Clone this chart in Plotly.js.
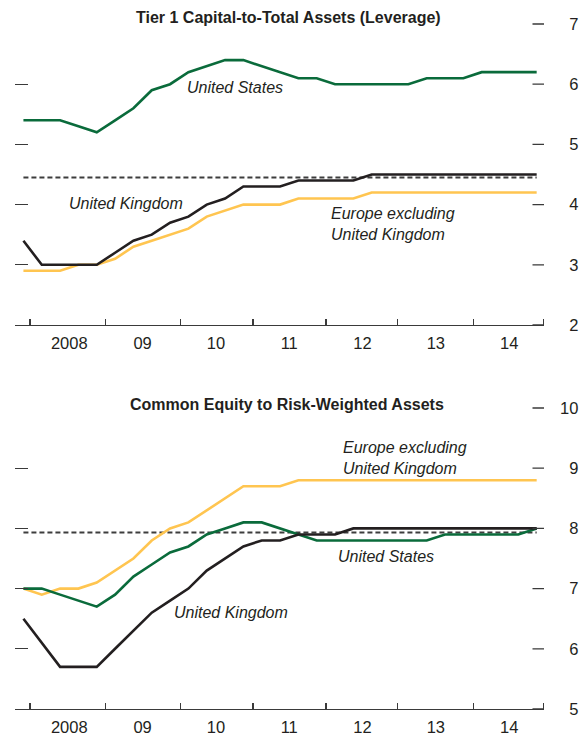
<!DOCTYPE html>
<html>
<head>
<meta charset="utf-8">
<script src="https://cdn.plot.ly/plotly-3.0.1.min.js"></script>
<style>html,body{margin:0;padding:0;background:#fff;}#chart{width:579px;height:740px;}</style>
</head>
<body>
<div id="chart"></div>
<script>
// Quarterly observations, 2007:Q4 .. 2014:Q4 (29 quarters)
const quarters = Array.from({length: 29}, (_, i) => i);
const yearLabels = ['2008', '09', '10', '11', '12', '13', '14'];
const yearCenters = [2.5, 6.5, 10.5, 14.5, 18.5, 22.5, 26.5];

// Panel 1: Tier 1 Capital-to-Total Assets (Leverage)
const levUS = [5.4, 5.4, 5.4, 5.3, 5.2, 5.4, 5.6, 5.9, 6.0, 6.2, 6.3, 6.4, 6.4, 6.3, 6.2, 6.1, 6.1, 6.0, 6.0, 6.0, 6.0, 6.0, 6.1, 6.1, 6.1, 6.2, 6.2, 6.2, 6.2];
const levUK = [3.4, 3.0, 3.0, 3.0, 3.0, 3.2, 3.4, 3.5, 3.7, 3.8, 4.0, 4.1, 4.3, 4.3, 4.3, 4.4, 4.4, 4.4, 4.4, 4.5, 4.5, 4.5, 4.5, 4.5, 4.5, 4.5, 4.5, 4.5, 4.5];
const levEU = [2.9, 2.9, 2.9, 3.0, 3.0, 3.1, 3.3, 3.4, 3.5, 3.6, 3.8, 3.9, 4.0, 4.0, 4.0, 4.1, 4.1, 4.1, 4.1, 4.2, 4.2, 4.2, 4.2, 4.2, 4.2, 4.2, 4.2, 4.2, 4.2];
const levRef = 4.45;

// Panel 2: Common Equity to Risk-Weighted Assets
const ceUS = [7.0, 7.0, 6.9, 6.8, 6.7, 6.9, 7.2, 7.4, 7.6, 7.7, 7.9, 8.0, 8.1, 8.1, 8.0, 7.9, 7.8, 7.8, 7.8, 7.8, 7.8, 7.8, 7.8, 7.9, 7.9, 7.9, 7.9, 7.9, 8.0];
const ceUK = [6.5, 6.1, 5.7, 5.7, 5.7, 6.0, 6.3, 6.6, 6.8, 7.0, 7.3, 7.5, 7.7, 7.8, 7.8, 7.9, 7.9, 7.9, 8.0, 8.0, 8.0, 8.0, 8.0, 8.0, 8.0, 8.0, 8.0, 8.0, 8.0];
const ceEU = [7.0, 6.9, 7.0, 7.0, 7.1, 7.3, 7.5, 7.8, 8.0, 8.1, 8.3, 8.5, 8.7, 8.7, 8.7, 8.8, 8.8, 8.8, 8.8, 8.8, 8.8, 8.8, 8.8, 8.8, 8.8, 8.8, 8.8, 8.8, 8.8];
const ceRef = 7.93;

const levTicks = [2, 3, 4, 5, 6, 7];
const ceTicks = [5, 6, 7, 8, 9, 10];

const FONT = '"Liberation Sans", Arial, "Helvetica Neue", sans-serif';
const GREEN = '#0a6b3b', YELLOW = '#ffc550', BLACK = '#231f20', TXT = '#231f20', AX = '#3a3a3a';
const LW = 2.6;
const XRANGE = [-0.46, 28.4];

function line(x, y, color, xa, ya, dash) {
  return {x: x, y: y, type: 'scatter', mode: 'lines', xaxis: xa, yaxis: ya,
          line: {color: color, width: dash ? 2 : LW, dash: dash || 'solid'}, hoverinfo: 'skip', showlegend: false};
}
function anchorTrace(xa, ya, y0) {
  return {x: [0], y: [y0], xaxis: xa, yaxis: ya, type: 'scatter', mode: 'markers', marker: {opacity: 0}, hoverinfo: 'skip', showlegend: false};
}
const refLev = quarters.map(() => levRef);
const refCe = quarters.map(() => ceRef);

const data = [
  line(quarters, refLev, '#3d3d3d', 'x', 'y', '5px,3px'),
  line(quarters, levEU, YELLOW, 'x', 'y'),
  line(quarters, levUK, BLACK, 'x', 'y'),
  line(quarters, levUS, GREEN, 'x', 'y'),
  line(quarters, refCe, '#3d3d3d', 'x2', 'y2', '5px,3px'),
  line(quarters, ceEU, YELLOW, 'x2', 'y2'),
  line(quarters, ceUS, GREEN, 'x2', 'y2'),
  line(quarters, ceUK, BLACK, 'x2', 'y2'),
  anchorTrace('x', 'y3', levTicks[0]),
  anchorTrace('x2', 'y4', ceTicks[0])
];

const minorTicks = [0.36, 4.47, 8.55, 12.52, 16.5, 20.39, 24.56, 28.36];
function xax(anchor) {
  return {anchor: anchor, range: XRANGE, showgrid: false, zeroline: false,
          showline: true, linecolor: AX, linewidth: 1.4,
          tickmode: 'array', tickvals: yearCenters, ticktext: yearLabels, ticks: '',
          minor: {tickmode: 'array', tickvals: minorTicks, ticks: 'inside', ticklen: 6, tickwidth: 1.3, tickcolor: AX, showgrid: false},
          tickfont: {family: FONT, size: 16.5, color: TXT}, ticklabelstandoff: 3, fixedrange: true};
}
// left axis: inward ticks, no labels
function yaxTicks(domain, range, ticks, anchor) {
  return {domain: domain, range: range, anchor: anchor, side: 'left', showgrid: false, zeroline: false,
          showline: false,
          tickmode: 'array', tickvals: ticks, showticklabels: false, ticks: 'inside', ticklen: 13, tickwidth: 1.3, tickcolor: AX,
          fixedrange: true};
}
// right axis: labels only
function yaxLabels(over, range, ticks, text, anchor) {
  return {overlaying: over, range: range, anchor: anchor, side: 'right', showgrid: false, zeroline: false, showline: false,
          tickmode: 'array', tickvals: ticks, ticktext: text, ticks: '',
          tickfont: {family: FONT, size: 16.5, color: TXT}, ticklabelstandoff: 15, fixedrange: true};
}

// right-aligned tick labels: pad single digits with a figure space
const pad = v => (v < 10 ? '\u2007' : '') + v;
const levText = levTicks.map(pad);
const ceText = ceTicks.map(pad);

function ann(text, x, y, xr, yr, opts) {
  return Object.assign({text: text, x: x, y: y, xref: xr, yref: yr, xanchor: 'left', yanchor: 'middle', showarrow: false,
          font: {family: FONT, size: 16, color: TXT}}, opts || {});
}
// inward tick marks on the right edge: arrowless annotation lines at each axis tick value
function rightTickMarks(ticks, xr, yr) {
  return ticks.map(v => ({text: '', x: XRANGE[1], y: v, xref: xr, yref: yr, showarrow: true,
                          arrowhead: 0, arrowwidth: 1.3, arrowcolor: AX, ax: -13, ay: 0,
                          standoff: 0, startstandoff: 0}));
}

const layout = {
  width: 579, height: 740,
  margin: {l: 14.8, r: 34.6, t: 24.3, b: 30.7, pad: 0},
  paper_bgcolor: '#fff', plot_bgcolor: 'rgba(0,0,0,0)',
  showlegend: false,
  xaxis: xax('y'),
  xaxis2: xax('y2'),
  yaxis: yaxTicks([0.5606, 1], [2, 7], levTicks, 'x'),
  yaxis2: yaxTicks([0, 0.4394], [5, 10], ceTicks, 'x2'),
  yaxis3: yaxLabels('y', [2, 7], levTicks, levText, 'x'),
  yaxis4: yaxLabels('y2', [5, 10], ceTicks, ceText, 'x2'),
  annotations: [
    ann('<b>Tier 1 Capital-to-Total Assets (Leverage)</b>', 0.5174, 1.0088, 'paper', 'paper', {xanchor: 'center', font: {family: FONT, size: 16, color: TXT}}),
    ann('<b>Common Equity to Risk-Weighted Assets</b>', 0.514, 0.4442, 'paper', 'paper', {xanchor: 'center', font: {family: FONT, size: 16, color: TXT}}),
    ann('<i>United States</i>', 8.81, 5.94, 'x', 'y'),
    ann('<i>United Kingdom</i>', 2.37, 4.02, 'x', 'y'),
    ann('<i>Europe excluding</i>', 16.66, 3.86, 'x', 'y'),
    ann('<i>United Kingdom</i>', 16.66, 3.51, 'x', 'y'),
    ann('<i>Europe excluding</i>', 17.3, 9.34, 'x2', 'y2'),
    ann('<i>United Kingdom</i>', 17.3, 9.0, 'x2', 'y2'),
    ann('<i>United States</i>', 17.04, 7.53, 'x2', 'y2'),
    ann('<i>United Kingdom</i>', 8.09, 6.61, 'x2', 'y2')
  ].concat(rightTickMarks(levTicks, 'x', 'y'), rightTickMarks(ceTicks, 'x2', 'y2'))
};

Plotly.newPlot('chart', data, layout, {staticPlot: true, displayModeBar: false});
</script>
</body>
</html>
